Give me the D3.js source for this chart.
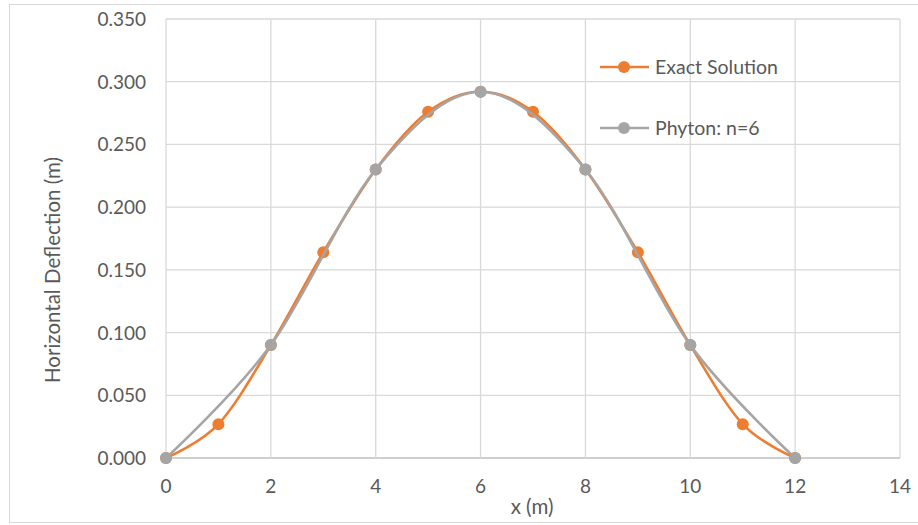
<!DOCTYPE html>
<html>
<head>
<meta charset="utf-8">
<script src="https://cdn.jsdelivr.net/npm/d3@7"></script>
<style>
  body { margin: 0; background: #fff; }
  svg text { font-family: Lato, "Open Sans", sans-serif; fill: #595959; }
</style>
</head>
<body>
<svg id="chart" width="918" height="525"></svg>
<script>
// values
var exactX = [0, 1, 2, 3, 4, 5, 6, 7, 8, 9, 10, 11, 12];
var exactY = [0, 0.027, 0.090, 0.164, 0.230, 0.276, 0.292, 0.276, 0.230, 0.164, 0.090, 0.027, 0];
var pythonX = [0, 2, 4, 6, 8, 10, 12];
var pythonY = [0, 0.090, 0.230, 0.292, 0.230, 0.090, 0];
var xTicks = [0, 2, 4, 6, 8, 10, 12, 14];
var yTicks = [0, 0.05, 0.1, 0.15, 0.2, 0.25, 0.3, 0.35];
var seriesNames = ["Exact Solution", "Phyton: n=6"];
var seriesColors = ["#ED7D31", "#A5A5A5"];

var svg = d3.select("#chart");

// outer frame
svg.append("rect")
  .attr("x", 9.5).attr("y", 4.5)
  .attr("width", 918).attr("height", 518)
  .attr("fill", "none").attr("stroke", "#d9d9d9");

var plotLeft = 166, plotRight = 900, plotTop = 19, plotBottom = 458;
var x = d3.scaleLinear().domain([0, 14]).range([plotLeft, plotRight]);
var y = d3.scaleLinear().domain([0, 0.35]).range([plotBottom, plotTop]);

// gridlines
svg.append("g").selectAll("line")
  .data(yTicks)
  .enter().append("line")
  .attr("x1", plotLeft).attr("x2", plotRight)
  .attr("y1", function(d) { return y(d); })
  .attr("y2", function(d) { return y(d); })
  .attr("stroke", function(d) { return d === 0 ? "#bfbfbf" : "#d9d9d9"; })
  .attr("stroke-width", 1.3);
svg.append("g").selectAll("line")
  .data(xTicks)
  .enter().append("line")
  .attr("x1", function(d) { return x(d); })
  .attr("x2", function(d) { return x(d); })
  .attr("y1", plotTop).attr("y2", plotBottom)
  .attr("stroke", "#d9d9d9")
  .attr("stroke-width", 1.3);

// tick labels
svg.append("g").selectAll("text")
  .data(yTicks)
  .enter().append("text")
  .attr("x", plotLeft - 20)
  .attr("y", function(d) { return y(d) + 7; })
  .attr("text-anchor", "end")
  .attr("font-size", 19)
  .text(function(d) { return d3.format(".3f")(d); });
svg.append("g").selectAll("text")
  .data(xTicks)
  .enter().append("text")
  .attr("x", function(d) { return x(d); })
  .attr("y", plotBottom + 35)
  .attr("text-anchor", "middle")
  .attr("font-size", 19)
  .text(function(d) { return d; });

// axis titles
svg.append("text")
  .attr("x", 532).attr("y", 514)
  .attr("text-anchor", "middle")
  .attr("font-size", 20.5)
  .text("x (m)");
svg.append("text")
  .attr("transform", "translate(60,270) rotate(-90)")
  .attr("text-anchor", "middle")
  .attr("font-size", 20.5)
  .text("Horizontal Deflection (m)");

var line = d3.line()
  .x(function(d) { return x(d[0]); })
  .y(function(d) { return y(d[1]); })
  .curve(d3.curveCatmullRom.alpha(0));

var series = [
  d3.zip(exactX, exactY),
  d3.zip(pythonX, pythonY)
];

series.forEach(function(pts, i) {
  svg.append("path")
    .datum(pts)
    .attr("d", line)
    .attr("fill", "none")
    .attr("stroke", seriesColors[i])
    .attr("stroke-width", 2.6)
    .attr("stroke-linejoin", "round");
  svg.append("g").selectAll("circle")
    .data(pts)
    .enter().append("circle")
    .attr("cx", function(d) { return x(d[0]); })
    .attr("cy", function(d) { return y(d[1]); })
    .attr("r", 6)
    .attr("fill", seriesColors[i]);
});

// legend
var legend = svg.append("g").selectAll("g")
  .data(seriesNames)
  .enter().append("g")
  .attr("transform", function(d, i) { return "translate(600," + (67 + i * 61) + ")"; });
legend.append("line")
  .attr("x1", 0).attr("x2", 49)
  .attr("stroke", function(d, i) { return seriesColors[i]; })
  .attr("stroke-width", 2.6);
legend.append("circle")
  .attr("cx", 24).attr("r", 6)
  .attr("fill", function(d, i) { return seriesColors[i]; });
legend.append("text")
  .attr("x", 55).attr("y", 7)
  .attr("font-size", 19.5)
  .text(function(d) { return d; });
</script>
</body>
</html>
